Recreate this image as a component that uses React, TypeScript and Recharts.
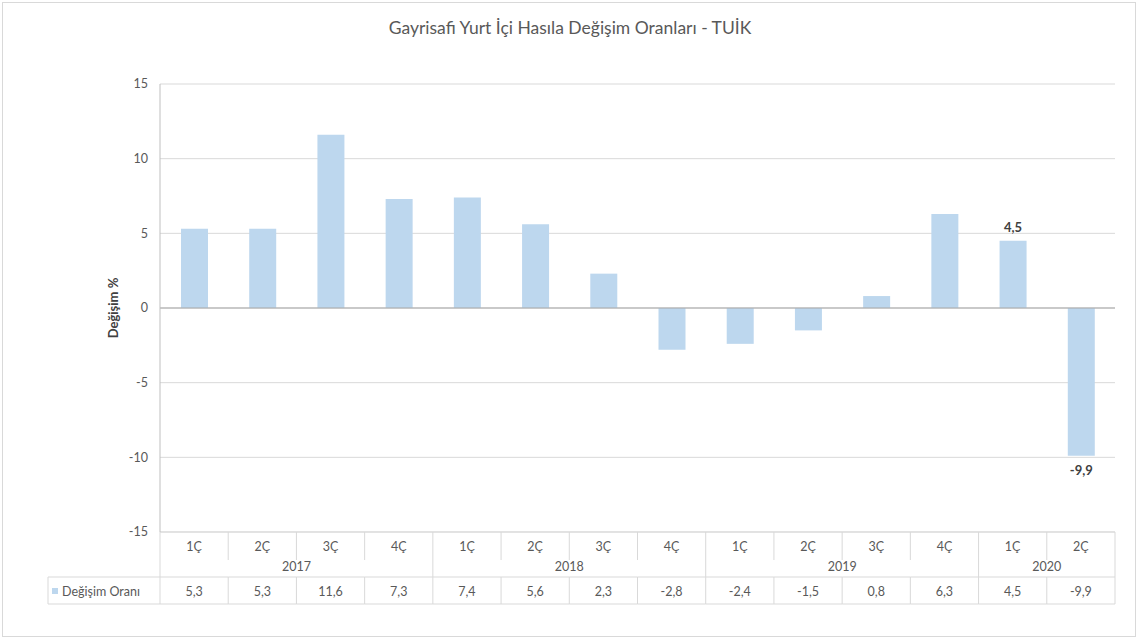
import React from 'react';
import { BarChart, Bar, XAxis, YAxis, CartesianGrid, ReferenceLine, LabelList } from 'recharts';

const quarters = ['1Ç', '2Ç', '3Ç', '4Ç', '1Ç', '2Ç', '3Ç', '4Ç', '1Ç', '2Ç', '3Ç', '4Ç', '1Ç', '2Ç'];
const years = ['2017', '2017', '2017', '2017', '2018', '2018', '2018', '2018', '2019', '2019', '2019', '2019', '2020', '2020'];
const changes = [5.3, 5.3, 11.6, 7.3, 7.4, 5.6, 2.3, -2.8, -2.4, -1.5, 0.8, 6.3, 4.5, -9.9];
const yTicks = [-15, -10, -5, 0, 5, 10, 15];
const labeledIdx = [12, 13];

const data = quarters.map((q, i) => ({ key: `${years[i]}-${q}-${i}`, q, year: years[i], value: changes[i] }));

const W = 1140;
const H = 641;
const M = { top: 84, right: 25, left: 0, bottom: 0 };
const Y_W = 160;
const PLOT_W = W - M.left - M.right - Y_W;
const FONT = 'Lato, "Open Sans", sans-serif';
const TXT = '#595959';
const LINE = '#d9d9d9';
const BAR = '#bdd7ee';
const FS = 12.5;

const fmt = (v: number) => v.toFixed(1).replace('.', ',');

const TableTick = (props: any) => {
  const { x, y, payload } = props;
  const i = payload.index;
  const n = quarters.length;
  const step = PLOT_W / n;
  const left = x - step / 2;
  const right = x + step / 2;
  const yearStart = i === 0 || years[i] !== years[i - 1];
  let len = 0;
  if (yearStart) {
    while (i + len < n && years[i + len] === years[i]) len++;
  }
  return (
    <g fontFamily={FONT} fontSize={FS} fill={TXT}>
      <text x={x} y={y + 19} textAnchor="middle" fill={TXT}>{quarters[i]}</text>
      <line x1={left} x2={left} y1={y} y2={yearStart ? y + 72 : y + 28} stroke={LINE} />
      {i === n - 1 && <line x1={right} x2={right} y1={y} y2={y + 72} stroke={LINE} />}
      {yearStart && (
        <text x={left + (len * step) / 2} y={y + 39} textAnchor="middle" fill={TXT}>{years[i]}</text>
      )}
      {!yearStart && <line x1={left} x2={left} y1={y + 45} y2={y + 72} stroke={LINE} />}
      <line x1={left} x2={right} y1={y + 45} y2={y + 45} stroke={LINE} />
      <line x1={left} x2={right} y1={y + 72} y2={y + 72} stroke={LINE} />
      <text x={x} y={y + 64} textAnchor="middle" fill={TXT}>{fmt(changes[i])}</text>
      {i === 0 && (
        <g>
          <line x1={left - 112} x2={left} y1={y + 45} y2={y + 45} stroke={LINE} />
          <line x1={left - 112} x2={left} y1={y + 72} y2={y + 72} stroke={LINE} />
          <line x1={left - 112} x2={left - 112} y1={y + 45} y2={y + 72} stroke={LINE} />
          <rect x={left - 108} y={y + 56} width={6} height={6} fill={BAR} />
          <text x={left - 98} y={y + 64} fill={TXT}>Değişim Oranı</text>
        </g>
      )}
    </g>
  );
};

const BarLabel = (props: any) => {
  const { x, y, width, height, value, index } = props;
  if (!labeledIdx.includes(index)) return null;
  const top = Math.min(y, y + height);
  const bottom = Math.max(y, y + height);
  const ty = value >= 0 ? top - 9 : bottom + 19;
  return (
    <text x={x + width / 2} y={ty} textAnchor="middle" fontFamily={FONT} fontSize={13} fontWeight="bold" fill="#404040">
      {fmt(value)}
    </text>
  );
};

export default function App() {
  return (
    <div style={{ position: 'absolute', left: 0, top: 0, width: W, height: H, background: '#fff' }}>
      <div
        style={{
          position: 'absolute', left: 2, top: 2, width: W - 6, height: H - 6,
          border: '1px solid #d9d9d9', boxSizing: 'border-box',
        }}
      />
      <div
        style={{
          position: 'absolute', left: 0, top: 17, width: W, textAlign: 'center',
          fontFamily: FONT, fontSize: 17.5, color: TXT,
        }}
      >
        Gayrisafi Yurt İçi Hasıla Değişim Oranları - TUİK
      </div>
      <div style={{ position: 'absolute', left: 0, top: 0 }}>
        <BarChart width={W} height={H} data={data} margin={M}>
          <CartesianGrid horizontal vertical={false} stroke={LINE} />
          <XAxis
            dataKey="key"
            interval={0}
            height={H - M.top - 448}
            tickSize={0}
            tickMargin={0}
            tickLine={false}
            axisLine={{ stroke: LINE }}
            tick={<TableTick />}
          />
          <YAxis
            domain={[-15, 15]}
            ticks={yTicks}
            width={Y_W}
            tickSize={0}
            tickMargin={12}
            tickLine={false}
            axisLine={{ stroke: '#bfbfbf' }}
            tick={{ fill: TXT, fontSize: FS, fontFamily: FONT }}
            label={{
              value: 'Değişim %', angle: -90, position: 'center', dx: 33,
              style: { fontFamily: FONT, fontSize: 13, fontWeight: 'bold', fill: '#404040' },
            }}
          />
          <ReferenceLine y={0} stroke="#a6a6a6" />
          <Bar dataKey="value" fill={BAR} barSize={27} isAnimationActive={false}>
            <LabelList dataKey="value" content={<BarLabel />} />
          </Bar>
        </BarChart>
      </div>
    </div>
  );
}
